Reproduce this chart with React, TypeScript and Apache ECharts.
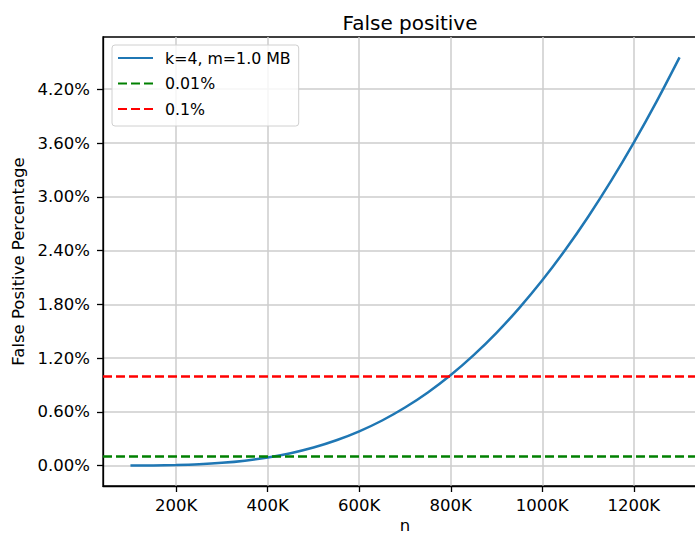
import React, { useEffect, useRef } from "react";
import * as echarts from "echarts";

const nValues = [100000, 150000, 200000, 250000, 300000, 350000, 400000, 450000, 500000, 550000, 600000, 650000, 700000, 750000, 800000, 850000, 900000, 950000, 1000000, 1050000, 1100000, 1150000, 1200000, 1250000, 1300000];
const fpPercent = [0.0005, 0.0023, 0.0069, 0.0159, 0.0316, 0.0558, 0.0909, 0.139, 0.202, 0.283, 0.383, 0.504, 0.649, 0.817, 1.011, 1.233, 1.482, 1.761, 2.068, 2.406, 2.775, 3.174, 3.604, 4.064, 4.555];
const thresholdGreen = 0.1;
const thresholdRed = 1.0;
const xTicks = [200000, 400000, 600000, 800000, 1000000, 1200000];
const yTicks = [0, 0.6, 1.2, 1.8, 2.4, 3.0, 3.6, 4.2];
const seriesNames = ["k=4, m=1.0 MB", "0.01%", "0.1%"];

const FONT = "DejaVu Sans";

export default function App() {
  const ref = useRef<HTMLDivElement>(null);
  useEffect(() => {
    document.body.style.margin = "0";
    const chart = echarts.init(ref.current!, null, { renderer: "svg" });
    const dash = [9, 4];
    chart.setOption({
      animation: false,
      backgroundColor: "#ffffff",
      textStyle: { fontFamily: FONT },
      title: {
        text: "False positive",
        left: 405,
        textAlign: "center",
        top: 8,
        textStyle: { fontFamily: FONT, fontSize: 20, fontWeight: "normal", color: "#000" },
      },
      legend: {
        orient: "vertical",
        left: 112,
        top: 45,
        data: seriesNames,
        itemWidth: 35,
        itemHeight: 16,
        itemGap: 9.5,
        padding: [5, 8, 9, 5],
        borderColor: "#d0d0d0",
        borderWidth: 1,
        borderRadius: 3,
        backgroundColor: "rgba(255,255,255,0.8)",
        itemStyle: { opacity: 0 },
        textStyle: { fontFamily: FONT, fontSize: 15.8, color: "#000", padding: [0, 0, 0, 7] },
      },
      grid: {
        left: 103,
        width: 604,
        top: 37,
        bottom: 49,
        outerBoundsMode: "none",
        containLabel: false,
        show: true,
        borderColor: "#000",
        borderWidth: 1.3,
        backgroundColor: "transparent",
      },
      xAxis: {
        type: "value",
        min: 40000,
        max: 1360000,
        name: "n",
        nameLocation: "middle",
        nameGap: 31,
        nameMoveOverlap: false,
        nameTextStyle: { fontFamily: FONT, fontSize: 16.5, color: "#000" },
        axisLine: { show: true, onZero: false, lineStyle: { color: "#000", width: 1.3 } },
        axisTick: { show: true, length: 6, lineStyle: { color: "#000", width: 1.3 }, customValues: xTicks },
        axisLabel: {
          customValues: xTicks,
          formatter: (v: number) => Math.round(v / 1000) + "K",
          fontFamily: FONT,
          fontSize: 16.5,
          color: "#000",
          margin: 11,
        },
        splitLine: { show: true, lineStyle: { color: "#cccccc", width: 1.5 } },
      },
      yAxis: {
        type: "value",
        min: -0.227,
        max: 4.783,
        name: "False Positive Percentage",
        nameLocation: "middle",
        nameGap: 74,
        nameTextStyle: { fontFamily: FONT, fontSize: 16.5, color: "#000" },
        axisLine: { show: true, onZero: false, lineStyle: { color: "#000", width: 1.3 } },
        axisTick: { show: true, length: 6, lineStyle: { color: "#000", width: 1.3 }, customValues: yTicks },
        axisLabel: {
          customValues: yTicks,
          formatter: (v: number) => v.toFixed(2) + "%",
          fontFamily: FONT,
          fontSize: 16.5,
          color: "#000",
          margin: 13,
        },
        splitLine: { show: true, lineStyle: { color: "#cccccc", width: 1.5 } },
      },
      series: [
        {
          name: seriesNames[0],
          type: "line",
          data: nValues.map((n, i) => [n, fpPercent[i]]),
          smooth: 0.3,
          showSymbol: false,
          symbol: "none",
          color: "#1f77b4",
          lineStyle: { color: "#1f77b4", width: 2.5 },
        },
        {
          name: seriesNames[1],
          type: "line",
          data: [],
          symbol: "none",
          color: "#008000",
          lineStyle: { color: "#008000", width: 2.5, type: dash },
          markLine: {
            silent: true,
            symbol: "none",
            label: { show: false },
            lineStyle: { color: "#008000", width: 2.5, type: dash },
            data: [{ yAxis: thresholdGreen }],
          },
        },
        {
          name: seriesNames[2],
          type: "line",
          data: [],
          symbol: "none",
          color: "#ff0000",
          lineStyle: { color: "#ff0000", width: 2.5, type: dash },
          markLine: {
            silent: true,
            symbol: "none",
            label: { show: false },
            lineStyle: { color: "#ff0000", width: 2.5, type: dash },
            data: [{ yAxis: thresholdRed }],
          },
        },
      ],
    });
    return () => chart.dispose();
  }, []);
  return <div ref={ref} style={{ width: 695, height: 535 }} />;
}
